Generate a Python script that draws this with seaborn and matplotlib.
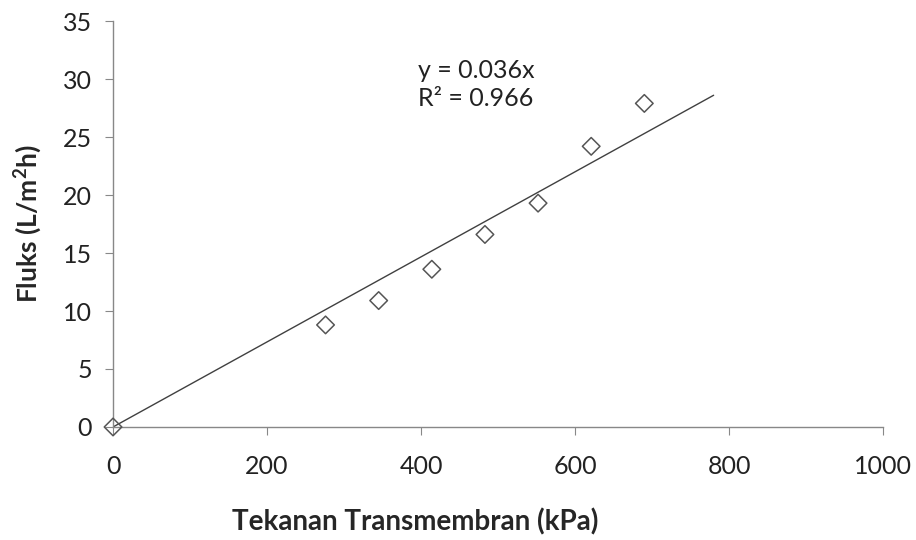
import matplotlib
matplotlib.use("Agg")
import matplotlib.pyplot as plt
import seaborn as sns
import numpy as np
import pandas as pd

# data
pressure_kpa = [0, 276, 345, 414, 483, 552, 621, 690]
flux = [0.0, 8.8, 10.9, 13.6, 16.6, 19.3, 24.2, 27.9]
x_ticks = [0, 200, 400, 600, 800, 1000]
y_ticks = [0, 5, 10, 15, 20, 25, 30, 35]
trend_end = 780

sns.set_style("white")
plt.rcParams["font.family"] = ["Lato", "DejaVu Sans"]

df = pd.DataFrame({"tmp": pressure_kpa, "flux": flux})

# linear fit through the origin, as in the Excel trendline
x = np.array(pressure_kpa, dtype=float)
y = np.array(flux)
slope = (x * y).sum() / (x * x).sum()
trend = pd.DataFrame({"tmp": [0, trend_end]})
trend["flux"] = slope * trend["tmp"]

fig = plt.figure(figsize=(9.16, 5.4), dpi=100)
ax = fig.add_axes([0.1234, 0.2093, 0.8406, 0.7517])

sns.lineplot(data=trend, x="tmp", y="flux", ax=ax, color="#404040", linewidth=1.0)
sns.scatterplot(data=df, x="tmp", y="flux", ax=ax, marker="D", s=80,
                facecolor="none", edgecolor="#555555", linewidth=1.1, clip_on=False, zorder=3)

ax.set_xlim(0, 1000)
ax.set_ylim(0, 35)
ax.set_xticks(x_ticks)
ax.set_yticks(y_ticks)
ax.tick_params(axis="both", labelsize=18, length=6, color="#888888", direction="out",
               bottom=True, left=True, labelcolor="#222222")
ax.tick_params(axis="x", pad=14)
ax.tick_params(axis="y", pad=9)
for side in ["top", "right"]:
    ax.spines[side].set_visible(False)
for side in ["left", "bottom"]:
    ax.spines[side].set_color("#888888")
    ax.spines[side].set_linewidth(1.0)

ax.set_xlabel("Tekanan Transmembran (kPa)", fontsize=20, fontweight="bold", labelpad=20)
ax.xaxis.set_label_coords(0.392, -0.2)
ax.set_ylabel("Fluks (L/m$^\\mathregular{2}$h)", fontsize=19, fontweight="bold", labelpad=14)

ax.text(396, 29.5, "y = 0.036x\nR² = 0.966", fontsize=18, ha="left", va="center",
        linespacing=1.25, color="#222222")

fig.savefig("out.png", dpi=100)
